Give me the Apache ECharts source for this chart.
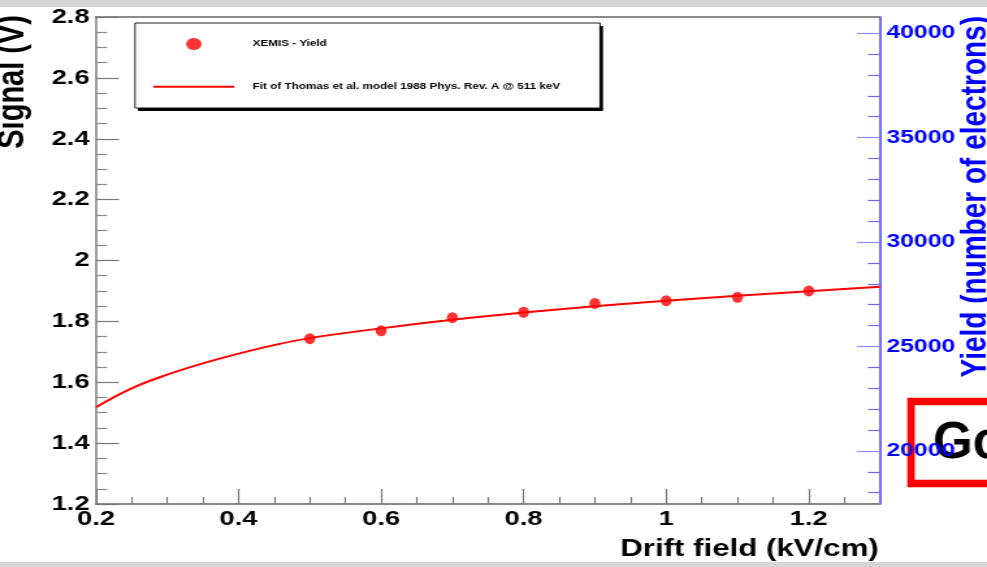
<!DOCTYPE html>
<html>
<head>
<meta charset="utf-8">
<script src="https://cdn.jsdelivr.net/npm/echarts@6/dist/echarts.min.js"></script>
<style>
  html, body { margin: 0; padding: 0; background: #fff; overflow: hidden; }
  #chart { width: 759px; height: 567px; transform-origin: 0 0; }
</style>
</head>
<body>
<div id="chart"></div>
<script>
// Measured signal (V) versus drift field (kV/cm)
const fieldKV = [0.5, 0.6, 0.7, 0.8, 0.9, 1.0, 1.1, 1.2];
const signalV = [1.743, 1.769, 1.812, 1.830, 1.859, 1.868, 1.879, 1.900];

// Fitted curve (Thomas et al. model), sampled along the field axis
const fitField  = [0.2, 0.25, 0.3, 0.35, 0.4, 0.45, 0.5, 0.6, 0.7, 0.8, 0.9, 1.0, 1.1, 1.2, 1.3];
const fitSignal = [1.518, 1.580, 1.625, 1.662, 1.694, 1.722, 1.745, 1.777, 1.805, 1.829, 1.850, 1.868, 1.884, 1.899, 1.914];

// Axis tick values
const fieldTicks      = [0.2, 0.4, 0.6, 0.8, 1, 1.2];
const fieldMinorTicks = [0.25, 0.3, 0.35, 0.45, 0.5, 0.55, 0.65, 0.7, 0.75, 0.85, 0.9, 0.95, 1.05, 1.1, 1.15, 1.25];
const yieldTicks      = [20000, 25000, 30000, 35000, 40000];
const yieldMinorTicks = [18000, 19000, 21000, 22000, 23000, 24000, 26000, 27000, 28000, 29000,
                         31000, 32000, 33000, 34000, 36000, 37000, 38000, 39000];

const pointsName = 'XEMIS - Yield';
const fitName = 'Fit of Thomas et al. model 1988 Phys. Rev. A @ 511 keV';

// The chart is laid out narrow and widened with a horizontal CSS scale.
const W = 759, H = 567, OUT_W = 987;
const S = OUT_W / W;
const cx = (x) => x / S;   // page x -> chart x
const FONT = '"Liberation Sans", Arial, Helvetica, sans-serif';

const el = document.getElementById('chart');
el.style.transform = 'scaleX(' + S + ')';
const chart = echarts.init(el, null, { renderer: 'canvas', width: W, height: H });

const option = {
  animation: false,
  backgroundColor: '#ffffff',
  textStyle: { fontFamily: FONT },
  grid: { left: cx(96), right: W - cx(880), top: 17, bottom: H - 504, containLabel: false },
  legend: {
    orient: 'vertical',
    left: cx(152), top: 38, padding: 0,
    itemWidth: cx(233) - cx(152), itemHeight: 12, itemGap: 32,
    selectedMode: false,
    z: 6,
    textStyle: { fontSize: 9, fontWeight: 'bold', color: '#000', fontFamily: FONT, padding: [0, 0, 0, 9] },
    data: [
      { name: pointsName, icon: 'circle' },
      { name: fitName, itemStyle: { opacity: 0 } }
    ]
  },
  xAxis: [
    {
      type: 'value', min: 0.2, max: 1.3, position: 'bottom',
      axisLine: { show: true, onZero: false, lineStyle: { color: '#888', width: 2 } },
      axisTick: { show: true, inside: true, length: 15, customValues: fieldTicks, lineStyle: { color: '#777', width: 1.2 } },
      axisLabel: { show: true, customValues: fieldTicks, margin: 5, fontSize: 21, fontWeight: 'bold', color: '#000', fontFamily: FONT },
      splitLine: { show: false },
      name: 'Drift field (kV/cm)', nameLocation: 'end', nameGap: -1,
      nameTextStyle: { fontSize: 24, fontWeight: 'bold', color: '#000', fontFamily: FONT, align: 'right', verticalAlign: 'top', padding: [33, 0, 0, 0] }
    },
    {
      type: 'value', min: 0.2, max: 1.3, position: 'bottom',
      axisLine: { show: false, onZero: false },
      axisTick: { show: true, inside: true, length: 7, customValues: fieldMinorTicks, lineStyle: { color: '#777', width: 1.2 } },
      axisLabel: { show: false }, splitLine: { show: false }
    },
    {
      type: 'value', min: 0.2, max: 1.3, position: 'top',
      axisLine: { show: true, onZero: false, lineStyle: { color: '#666', width: 1.5 } },
      axisTick: { show: false }, axisLabel: { show: false }, splitLine: { show: false }
    }
  ],
  yAxis: [
    {
      type: 'value', min: 1.2, max: 2.8, interval: 0.2, position: 'left',
      axisLine: { show: true, onZero: false, lineStyle: { color: '#888', width: 1.6 } },
      axisTick: { show: true, inside: true, length: cx(23), lineStyle: { color: '#777', width: 1.2 } },
      minorTick: { show: true, splitNumber: 4, length: cx(11), lineStyle: { color: '#888', width: 1.2 } },
      axisLabel: { margin: 5, fontSize: 21, fontWeight: 'bold', color: '#000', fontFamily: FONT },
      splitLine: { show: false }, minorSplitLine: { show: false }
    },
    {
      type: 'value', min: 17460, max: 40770, position: 'right',
      axisLine: { show: true, onZero: false, lineStyle: { color: '#4a4aff', width: 1.6 } },
      axisTick: { show: true, inside: true, length: cx(23), customValues: yieldTicks, lineStyle: { color: '#8c8cff', width: 1.2 } },
      axisLabel: { customValues: yieldTicks, margin: 5, fontSize: 19, fontWeight: 'bold', color: '#0000ff', fontFamily: FONT,
                   formatter: (v) => String(v) },
      splitLine: { show: false }
    },
    {
      type: 'value', min: 17460, max: 40770, position: 'right',
      axisLine: { show: false, onZero: false },
      axisTick: { show: true, inside: true, length: cx(12), customValues: yieldMinorTicks, lineStyle: { color: '#6a6aff', width: 1.2 } },
      axisLabel: { show: false }, splitLine: { show: false }
    }
  ],
  series: [
    {
      name: fitName, type: 'line', xAxisIndex: 0, yAxisIndex: 0,
      data: fitField.map((x, i) => [x, fitSignal[i]]),
      smooth: 0.4, symbol: 'none',
      lineStyle: { color: '#ff0000', width: 2 }, itemStyle: { color: '#ff0000' }, z: 2
    },
    {
      name: pointsName, type: 'scatter', xAxisIndex: 0, yAxisIndex: 0,
      data: fieldKV.map((x, i) => [x, signalV[i]]),
      symbol: 'circle', symbolSize: [cx(11), 11],
      itemStyle: { color: '#ff0000' }, z: 3
    }
  ],
  graphic: [
    // legend frame with its drop shadow
    {
      type: 'group', scaleX: 1 / S, z: 3,
      children: [
        { type: 'rect', shape: { x: 138, y: 26, width: 465, height: 85 }, style: { fill: '#000' } },
        { type: 'rect', shape: { x: 135, y: 23, width: 465, height: 85 }, style: { fill: '#fff', stroke: '#000', lineWidth: 1 } }
      ]
    },
    // axis titles on the two vertical axes
    {
      type: 'text', x: cx(13), y: 15, rotation: Math.PI / 2, z: 10,
      style: { text: 'Signal (V)', font: 'bold 29px ' + FONT, fill: '#000', align: 'right', verticalAlign: 'middle' }
    },
    {
      type: 'text', x: cx(976), y: 16, rotation: Math.PI / 2, z: 10,
      style: { text: 'Yield (number of electrons)', font: 'bold 28px ' + FONT, fill: '#0000ff', align: 'right', verticalAlign: 'middle' }
    },
    // page bands and the boxed overlay at lower right
    {
      type: 'group', scaleX: 1 / S, z: 100,
      children: [
        { type: 'rect', shape: { x: 0, y: 0, width: 987, height: 7 }, style: { fill: '#d6d6d6' } },
        { type: 'rect', shape: { x: 0, y: 562, width: 987, height: 5 }, style: { fill: '#d6d6d6' } },
        { type: 'rect', shape: { x: 911, y: 401.5, width: 140, height: 82 }, style: { fill: 'none', stroke: '#ff0000', lineWidth: 7.5 } },
        { type: 'text', x: 933, y: 444, style: { text: 'Go', font: 'bold 51px ' + FONT, fill: '#000', align: 'left', verticalAlign: 'middle' } }
      ]
    }
  ]
};

chart.setOption(option);
</script>
</body>
</html>
